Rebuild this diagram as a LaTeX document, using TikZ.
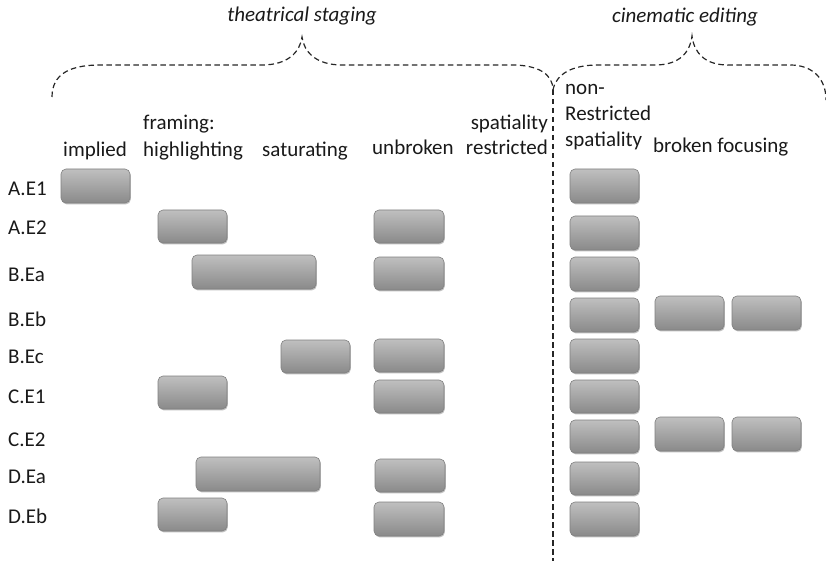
\documentclass[tikz,border=0pt]{standalone}
\usepackage{fontspec}
\setmainfont{Carlito}
\usetikzlibrary{shadows}
\tikzset{
  bx/.style={rounded corners=5pt, draw=gray!75!black!80, line width=0.6pt,
    top color=black!25, bottom color=black!46, inner sep=0pt,
    drop shadow={shadow xshift=0.8pt, shadow yshift=-1.4pt, opacity=0.25, fill=black}},
  lbl/.style={anchor=base west, inner sep=0pt, font=\fontsize{21}{26}\selectfont, text=black!90},
  lblr/.style={anchor=base east, inner sep=0pt, font=\fontsize{21}{26}\selectfont, text=black!90},
  ttl/.style={anchor=base, inner sep=0pt, font=\fontsize{21}{26}\selectfont\itshape, text=black!90},
  brc/.style={dashed, dash pattern=on 5.5pt off 3.5pt, line width=1.2pt, black!85},
}
\newcommand\mybox[5]{\node[bx, minimum width={(#4-#2)*1pt}, minimum height={(#5-#3)*1pt}] (#1) at ({(#2+#4)/2},{(#3+#5)/2}) {};}
\begin{document}
\begin{tikzpicture}[x=1pt,y=-1pt]
\useasboundingbox (0,0) rectangle (826,561);
% titles
\node[ttl] (tts) at (302,22) {theatrical staging};
\node[ttl] (tce) at (685,23) {cinematic editing};
% braces
\draw[brc] (52,97) .. controls (52,74) and (70,65) .. (100,65) -- (262,65)
  .. controls (288,65) and (300,52) .. (302,37)
  .. controls (304,52) and (316,65) .. (342,65) -- (512,65)
  .. controls (538,65) and (553,74) .. (553,90);
\draw[brc] (553,90) .. controls (556,74) and (572,65) .. (598,65) -- (655,65)
  .. controls (680,65) and (690,52) .. (692,36)
  .. controls (694,52) and (704,65) .. (728,65) -- (790,65)
  .. controls (812,65) and (826,78) .. (826,100);
\draw[brc] (553,90) -- (553,561);
% column headers
\node[lbl] (himp) at (63,157) {implied};
\node[lbl] (hfr) at (143,130) {framing:};
\node[lbl] (hhl) at (143,157) {highlighting};
\node[lbl] (hsat) at (262,157) {saturating};
\node[lbl] (hub) at (372,155) {unbroken};
\node[lblr] (hsp) at (548,130) {spatiality};
\node[lblr] (hres) at (548,155) {restricted};
\node[lbl] (hnon) at (565,95) {non-};
\node[lbl] (hR) at (565,121) {Restricted};
\node[lbl] (hsp2) at (565,147) {spatiality};
\node[lbl] (hbf) at (653,153) {broken focusing};
% row labels
\node[lbl] (rA1) at (8,196) {A.E1};
\node[lbl] (rA2) at (8,234) {A.E2};
\node[lbl] (rBa) at (8,281) {B.Ea};
\node[lbl] (rBb) at (8,326) {B.Eb};
\node[lbl] (rBc) at (8,363) {B.Ec};
\node[lbl] (rC1) at (8,403) {C.E1};
\node[lbl] (rC2) at (8,446) {C.E2};
\node[lbl] (rDa) at (8,483) {D.Ea};
\node[lbl] (rDb) at (8,523) {D.Eb};
% boxes
\mybox{a1i}{61}{169}{130}{203}
\mybox{a1n}{570}{169}{639}{203}
\mybox{a2h}{158}{210}{227}{243}
\mybox{a2u}{374}{210}{444}{243}
\mybox{a2n}{570}{216}{639}{250}
\mybox{bah}{192}{255}{316}{289}
\mybox{bau}{374}{257}{444}{290}
\mybox{ban}{570}{257}{639}{291}
\mybox{bbn}{570}{298}{639}{332}
\mybox{bbb}{655}{296}{724}{330}
\mybox{bbf}{732}{296}{801}{330}
\mybox{bcs}{281}{340}{350}{373}
\mybox{bcu}{374}{339}{444}{372}
\mybox{bcn}{570}{339}{639}{373}
\mybox{c1h}{158}{376}{227}{409}
\mybox{c1u}{374}{380}{444}{413}
\mybox{c1n}{570}{380}{639}{413}
\mybox{c2n}{570}{420}{639}{453}
\mybox{c2b}{655}{417}{724}{451}
\mybox{c2f}{732}{417}{801}{451}
\mybox{dah}{196}{457}{320}{491}
\mybox{dau}{375}{459}{445}{492}
\mybox{dan}{570}{462}{639}{495}
\mybox{dbh}{158}{498}{227}{531}
\mybox{dbu}{374}{502}{444}{536}
\mybox{dbn}{570}{502}{639}{536}
\end{tikzpicture}
\end{document}
